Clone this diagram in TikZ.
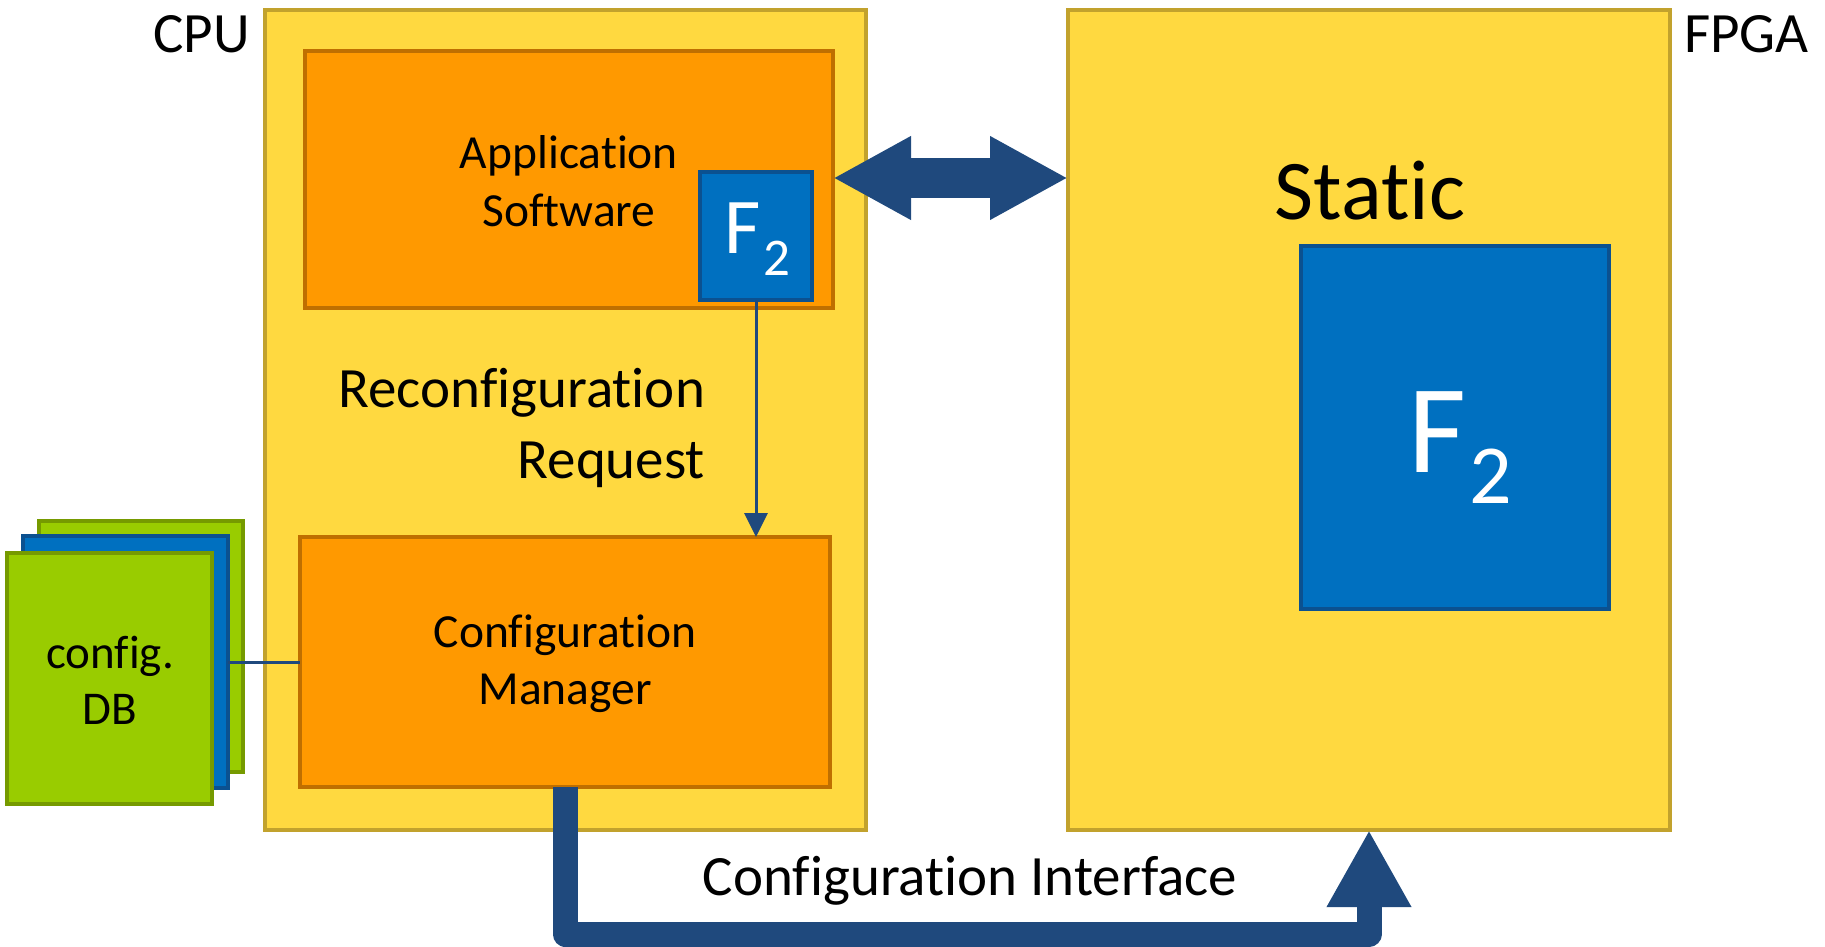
\documentclass[tikz,border=0pt]{standalone}
\usepackage{fontspec}
\setmainfont{Carlito}[Ligatures=NoCommon]
\usetikzlibrary{arrows.meta}

\definecolor{goldfill}{HTML}{FFD940}
\definecolor{golddraw}{HTML}{C2A22D}
\definecolor{orangefill}{HTML}{FF9900}
\definecolor{orangedraw}{HTML}{BF6F00}
\definecolor{bluefill}{HTML}{0070C0}
\definecolor{bluedraw}{HTML}{0B5190}
\definecolor{greenfill}{HTML}{99CC00}
\definecolor{greendraw}{HTML}{769A00}
\definecolor{navy}{HTML}{1F497D}

\newcommand\fsz[1]{\fontsize{#1}{#1}\selectfont}

\tikzset{
  plainbox/.style={inner sep=0pt, outer sep=0pt, line width=4pt},
  chip/.style={plainbox, fill=goldfill, draw=golddraw},
  block/.style={plainbox, fill=orangefill, draw=orangedraw},
  func/.style={plainbox, fill=bluefill, draw=bluedraw, text=white},
  db/.style={plainbox, fill=greenfill, draw=greendraw},
  label/.style={inner sep=0pt, outer sep=0pt},
  thin/.style={draw=navy, line width=3pt},
  thick/.style={draw=navy, line width=25pt, line join=round},
}

\begin{document}
\begin{tikzpicture}[x=1pt, y=-1pt]
\useasboundingbox (0,0) rectangle (1825,947);

% processor and programmable logic
\node[chip, minimum width=601pt, minimum height=820pt] (cpu) at (565.5,420) {};
\node[chip, minimum width=602pt, minimum height=820pt] (fpga) at (1369,420) {};
\node[label, font=\fsz{57}, anchor=east] (cpulbl) at (250,34) {CPU};
\node[label, font=\fsz{57}, anchor=west] (fpgalbl) at (1684,34) {FPGA};

% software side
\node[block, minimum width=528pt, minimum height=257pt] (app) at (569,179.5) {};
\node[label, font=\fsz{47.5}, align=center] (apptxt) at (569,181)
  {Application\\[10.5pt]Software};
\node[func, minimum width=112pt, minimum height=128pt] (f2s) at (756,236) {};
\node[label, text=white, anchor=base west] (f2stxt) at (724,253)
  {\fsz{79}F\kern3pt\raisebox{-22pt}{\fsz{53}2}};

\node[block, minimum width=530pt, minimum height=250pt] (cm) at (565,662) {};
\node[label, font=\fsz{47.5}, align=center] (cmtxt) at (565,664)
  {Configuration\\[9.5pt]Manager};

\node[label, font=\fsz{57}, align=right, anchor=east] (req) at (705,428)
  {Reconfiguration\\[14pt]Request};

% configuration database stack
\node[db, minimum width=204pt, minimum height=251pt] (db3) at (141,646.5) {};
\node[func, minimum width=205pt, minimum height=252pt] (db2) at (125.5,662) {};
\node[db, minimum width=205pt, minimum height=251pt] (db1) at (109.5,678.5) {};
\node[label, font=\fsz{47}, align=center] (dbtxt) at (110,680)
  {config.\\[9pt]DB};

% hardware side
\node[label, font=\fsz{85}] (static) at (1370,191) {Static};
\node[func, minimum width=308pt, minimum height=363pt] (f2b) at (1455,427.5) {};
\node[label, text=white, anchor=base west] (f2btxt) at (1408,472)
  {\fsz{126}F\kern4pt\raisebox{-31pt}{\fsz{84}2}};

% connections
\draw[thin] (db2.east |- cm.west) -- (cm.west);
\draw[thin, -{Triangle[width=23pt,length=24pt]}] (f2s.south) -- (f2s.south |- cm.north);
\draw[draw=navy, line width=40pt,
      {Triangle[width=78pt,length=78pt]}-{Triangle[width=78pt,length=78pt]}]
  ([yshift=1.5pt]app.east) -- ([yshift=1.5pt]app.east -| fpga.west);
\coordinate (turn) at (565,934);
\draw[thick, -{Triangle[width=79pt,length=77pt]}]
  (cm.south) -- (turn) -| (fpga.south);
\node[label, font=\fsz{57}] (iface) at (970,881) {Configuration Interface};
\end{tikzpicture}
\end{document}
